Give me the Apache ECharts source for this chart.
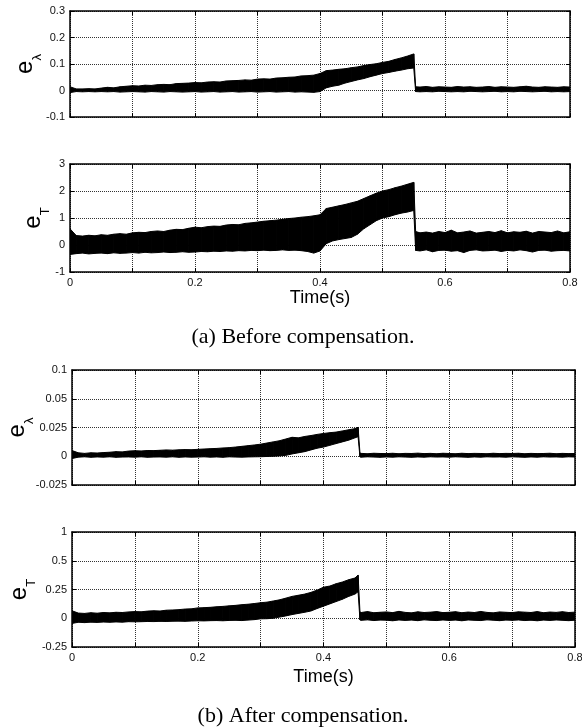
<!DOCTYPE html>
<html>
<head>
<meta charset="utf-8">
<title>Before / after compensation</title>
<script src="https://cdn.jsdelivr.net/npm/echarts@6.0.0/dist/echarts.min.js"></script>
<style>
  html, body { margin: 0; padding: 0; background: #fff; }
  #chart { width: 582px; height: 728px; }
</style>
</head>
<body>
<div id="chart"></div>
<script>
// time axis samples, (a) plots drop at 0.55 s, (b) plots at 0.455 s
var tTop = [0, 0.01, 0.02, 0.03, 0.04, 0.05, 0.06, 0.07, 0.08, 0.09,
    0.10, 0.11, 0.12, 0.13, 0.14, 0.15, 0.16, 0.17, 0.18, 0.19,
    0.20, 0.21, 0.22, 0.23, 0.24, 0.25, 0.26, 0.27, 0.28, 0.29,
    0.30, 0.31, 0.32, 0.33, 0.34, 0.35, 0.36, 0.37, 0.38, 0.39,
    0.40, 0.41, 0.42, 0.43, 0.44, 0.45, 0.46, 0.47, 0.48, 0.49,
    0.50, 0.51, 0.52, 0.53, 0.54, 0.55, 0.553, 0.56, 0.57, 0.58, 0.59,
    0.60, 0.61, 0.62, 0.63, 0.64, 0.65, 0.66, 0.67, 0.68, 0.69,
    0.70, 0.71, 0.72, 0.73, 0.74, 0.75, 0.76, 0.77, 0.78, 0.79, 0.80];
var tBot = [0, 0.01, 0.02, 0.03, 0.04, 0.05, 0.06, 0.07, 0.08, 0.09,
    0.10, 0.11, 0.12, 0.13, 0.14, 0.15, 0.16, 0.17, 0.18, 0.19,
    0.20, 0.21, 0.22, 0.23, 0.24, 0.25, 0.26, 0.27, 0.28, 0.29,
    0.30, 0.31, 0.32, 0.33, 0.34, 0.35, 0.36, 0.37, 0.38, 0.39,
    0.40, 0.41, 0.42, 0.43, 0.44, 0.45, 0.455, 0.458, 0.46, 0.47, 0.48, 0.49,
    0.50, 0.51, 0.52, 0.53, 0.54, 0.55, 0.56, 0.57, 0.58, 0.59,
    0.60, 0.61, 0.62, 0.63, 0.64, 0.65, 0.66, 0.67, 0.68, 0.69,
    0.70, 0.71, 0.72, 0.73, 0.74, 0.75, 0.76, 0.77, 0.78, 0.79, 0.80];

// (a) e_lambda : upper / lower envelope of the oscillation
var upLamA = [0.014, 0.006, 0.006, 0.007, 0.006, 0.009, 0.012, 0.010, 0.014, 0.016,
    0.018, 0.017, 0.020, 0.019, 0.022, 0.023, 0.022, 0.026, 0.027, 0.028,
    0.030, 0.029, 0.032, 0.033, 0.032, 0.036, 0.037, 0.038, 0.040, 0.039,
    0.043, 0.044, 0.043, 0.047, 0.048, 0.050, 0.051, 0.055, 0.056, 0.058,
    0.064, 0.075, 0.077, 0.080, 0.082, 0.086, 0.089, 0.094, 0.098, 0.101,
    0.106, 0.110, 0.117, 0.123, 0.130, 0.138, 0.014, 0.013, 0.015, 0.012, 0.014,
    0.013, 0.012, 0.015, 0.013, 0.014, 0.012, 0.013, 0.015, 0.012, 0.014,
    0.013, 0.012, 0.014, 0.016, 0.013, 0.012, 0.014, 0.013, 0.012, 0.014, 0.013];
var loLamA = [-0.008, -0.004, -0.005, -0.004, -0.005, -0.004, -0.005, -0.004, -0.006, -0.005,
    -0.004, -0.005, -0.006, -0.004, -0.005, -0.006, -0.004, -0.005, -0.006, -0.005,
    -0.004, -0.006, -0.005, -0.004, -0.006, -0.005, -0.004, -0.006, -0.005, -0.004,
    -0.006, -0.005, -0.004, -0.006, -0.005, -0.004, -0.006, -0.005, -0.006, -0.007,
    -0.004, 0.010, 0.016, 0.020, 0.028, 0.034, 0.040, 0.045, 0.052, 0.058,
    0.064, 0.068, 0.073, 0.077, 0.082, 0.085, -0.004, -0.005, -0.004, -0.005, -0.003,
    -0.004, -0.005, -0.004, -0.005, -0.003, -0.004, -0.005, -0.004, -0.003, -0.005,
    -0.004, -0.005, -0.003, -0.004, -0.005, -0.004, -0.003, -0.005, -0.004, -0.005, -0.004];

// (a) e_T
var upTA = [0.60, 0.35, 0.33, 0.36, 0.34, 0.38, 0.36, 0.40, 0.42, 0.40,
    0.45, 0.47, 0.46, 0.50, 0.52, 0.50, 0.55, 0.58, 0.57, 0.62,
    0.66, 0.64, 0.68, 0.70, 0.69, 0.74, 0.76, 0.75, 0.80, 0.82,
    0.85, 0.88, 0.90, 0.92, 0.95, 0.98, 1.00, 1.03, 1.05, 1.08,
    1.12, 1.35, 1.40, 1.45, 1.50, 1.56, 1.62, 1.72, 1.82, 1.92,
    2.00, 2.05, 2.12, 2.18, 2.25, 2.32, 0.50, 0.45, 0.48, 0.44, 0.50,
    0.46, 0.55, 0.45, 0.48, 0.52, 0.44, 0.47, 0.50, 0.46, 0.53,
    0.45, 0.49, 0.47, 0.51, 0.44, 0.50, 0.48, 0.46, 0.52, 0.45, 0.49];
var loTA = [-0.35, -0.32, -0.30, -0.33, -0.31, -0.30, -0.32, -0.29, -0.31, -0.30,
    -0.28, -0.30, -0.27, -0.29, -0.28, -0.26, -0.28, -0.27, -0.25, -0.27,
    -0.26, -0.24, -0.25, -0.23, -0.24, -0.22, -0.23, -0.21, -0.22, -0.20,
    -0.21, -0.19, -0.21, -0.20, -0.18, -0.20, -0.19, -0.21, -0.24, -0.30,
    -0.22, 0.05, 0.15, 0.20, 0.24, 0.28, 0.40, 0.60, 0.75, 0.90,
    1.00, 1.05, 1.12, 1.18, 1.22, 1.28, -0.20, -0.22, -0.18, -0.25, -0.20,
    -0.19, -0.23, -0.21, -0.28, -0.20, -0.18, -0.22, -0.21, -0.19, -0.24,
    -0.20, -0.22, -0.18, -0.21, -0.26, -0.20, -0.19, -0.23, -0.21, -0.20, -0.22];

// (b) e_lambda
var upLamB = [0.005, 0.003, 0.0025, 0.003, 0.0028, 0.0032, 0.0035, 0.004, 0.0038, 0.0045,
    0.0048, 0.0046, 0.005, 0.0049, 0.0052, 0.0055, 0.0053, 0.0056, 0.0058, 0.0057,
    0.006, 0.0063, 0.0066, 0.0068, 0.0072, 0.0075, 0.008, 0.0086, 0.0092, 0.0098,
    0.0105, 0.0115, 0.0125, 0.0135, 0.015, 0.0165, 0.016, 0.0172, 0.018, 0.019,
    0.0198, 0.0205, 0.021, 0.022, 0.023, 0.024, 0.0252, 0.0028, 0.0025, 0.0022, 0.0026, 0.0024,
    0.0023, 0.0026, 0.0022, 0.0025, 0.0024, 0.0027, 0.0023, 0.0025, 0.0022, 0.0026,
    0.0024, 0.0022, 0.0026, 0.0023, 0.0025, 0.0024, 0.0022, 0.0026, 0.0023, 0.0025,
    0.0024, 0.0026, 0.0022, 0.0025, 0.0023, 0.0024, 0.0026, 0.0022, 0.0025, 0.0023, 0.0024];
var loLamB = [-0.002, -0.0008, -0.0005, -0.0009, -0.0006, -0.0008, -0.0005, -0.0009, -0.0007, -0.0006,
    -0.0008, -0.0005, -0.0009, -0.0007, -0.0006, -0.0008, -0.0005, -0.0009, -0.0006, -0.0008,
    -0.0007, -0.0005, -0.0008, -0.0006, -0.0009, -0.0005, -0.0007, -0.0008, -0.0006, -0.0005,
    -0.0004, -0.0002, 0.0, 0.0003, 0.0008, 0.002, 0.003, 0.004, 0.0055, 0.007,
    0.008, 0.0095, 0.011, 0.0125, 0.014, 0.016, 0.017, -0.0006, -0.0008, -0.0005, -0.0007, -0.0009,
    -0.0006, -0.0008, -0.0005, -0.0007, -0.0009, -0.0006, -0.0008, -0.0005, -0.0007, -0.0006,
    -0.0008, -0.0005, -0.0007, -0.0009, -0.0006, -0.0008, -0.0005, -0.0007, -0.0006, -0.0008,
    -0.0005, -0.0007, -0.0009, -0.0006, -0.0008, -0.0005, -0.0007, -0.0006, -0.0008, -0.0005, -0.0007];

// (b) e_T
var upTB = [0.065, 0.045, 0.042, 0.048, 0.044, 0.050, 0.047, 0.052, 0.050, 0.055,
    0.058, 0.056, 0.062, 0.065, 0.063, 0.070, 0.072, 0.075, 0.080, 0.082,
    0.090, 0.092, 0.095, 0.100, 0.103, 0.108, 0.112, 0.118, 0.122, 0.128,
    0.135, 0.140, 0.150, 0.160, 0.175, 0.190, 0.200, 0.210, 0.225, 0.245,
    0.270, 0.280, 0.300, 0.315, 0.335, 0.350, 0.375, 0.055, 0.050, 0.058, 0.048, 0.052,
    0.055, 0.049, 0.060, 0.051, 0.047, 0.056, 0.050, 0.053, 0.058, 0.049,
    0.052, 0.057, 0.048, 0.054, 0.050, 0.059, 0.051, 0.047, 0.055, 0.052,
    0.049, 0.056, 0.053, 0.050, 0.058, 0.048, 0.054, 0.051, 0.057, 0.050, 0.053];
var loTB = [-0.045, -0.035, -0.038, -0.034, -0.036, -0.033, -0.035, -0.032, -0.034, -0.030,
    -0.031, -0.030, -0.028, -0.029, -0.027, -0.028, -0.026, -0.025, -0.027, -0.024,
    -0.022, -0.023, -0.021, -0.020, -0.022, -0.019, -0.018, -0.020, -0.016, -0.012,
    -0.005, -0.004, 0.000, 0.010, 0.020, 0.032, 0.042, 0.052, 0.063, 0.085,
    0.105, 0.125, 0.145, 0.165, 0.190, 0.210, 0.230, -0.015, -0.018, -0.014, -0.020, -0.016,
    -0.017, -0.022, -0.015, -0.019, -0.016, -0.021, -0.014, -0.018, -0.020, -0.015,
    -0.019, -0.016, -0.022, -0.015, -0.018, -0.020, -0.014, -0.017, -0.021, -0.016,
    -0.018, -0.015, -0.020, -0.017, -0.022, -0.016, -0.019, -0.015, -0.018, -0.021, -0.017];

// tick labels (the (b) plots use uneven labels on an evenly spaced grid)
var xLabels = ['0', '', '0.2', '', '0.4', '', '0.6', '', '0.8'];
var yLabLamA = ['-0.1', '0', '0.1', '0.2', '0.3'];
var yLabTA = ['-1', '0', '1', '2', '3'];
var yLabLamB = ['-0.025', '0', '0.025', '0.05', '0.1'];
var yLabTB = ['-0.25', '0', '0.25', '0.5', '1'];

var FONT = 'Liberation Sans';

var chart = echarts.init(document.getElementById('chart'));

// one polygon per time step, between upper and lower envelope
function bandData(times, upper, lower) {
    var out = [];
    for (var i = 0; i < times.length - 1; i++) {
        out.push([times[i], upper[i], lower[i], times[i + 1], upper[i + 1], lower[i + 1]]);
    }
    return out;
}

function renderBand(params, api) {
    var a = api.coord([api.value(0), api.value(1)]);
    var b = api.coord([api.value(3), api.value(4)]);
    var c = api.coord([api.value(3), api.value(5)]);
    var d = api.coord([api.value(0), api.value(2)]);
    return {
        type: 'polygon',
        shape: {points: [a, b, c, d]},
        style: {fill: '#000', stroke: '#000', lineWidth: 1}
    };
}

function bandSeries(g, times, upper, lower) {
    return {
        type: 'custom',
        xAxisIndex: g * 2,
        yAxisIndex: g * 2,
        renderItem: renderBand,
        encode: {x: [0, 3], y: [1, 2, 4, 5]},
        data: bandData(times, upper, lower),
        clip: true,
        silent: true
    };
}

var tick = {show: true, inside: true, length: 4, lineStyle: {color: '#000'}};
var frame = {show: true, onZero: false, lineStyle: {color: '#000', width: 1.5}};
var dots = {show: true, lineStyle: {color: '#333', type: 'dotted', width: 1}};

function xAxes(g, withLabels, gap) {
    var bottom = {
        type: 'value', gridIndex: g, position: 'bottom',
        min: 0, max: 0.8, interval: 0.1,
        axisLine: frame, axisTick: tick, splitLine: dots,
        axisLabel: {
            show: withLabels, color: '#111', fontFamily: FONT, fontSize: 11, margin: 5,
            showMinLabel: true, showMaxLabel: true,
            formatter: function (v, i) { return xLabels[i]; }
        }
    };
    if (withLabels) {
        bottom.name = 'Time(s)';
        bottom.nameLocation = 'middle';
        bottom.nameGap = gap;
        bottom.nameTextStyle = {color: '#000', fontFamily: FONT, fontSize: 18};
    }
    var top = {
        type: 'value', gridIndex: g, position: 'top',
        min: 0, max: 0.8, interval: 0.1,
        axisLine: frame, axisTick: tick, splitLine: {show: false}, axisLabel: {show: false}
    };
    return [bottom, top];
}

function yAxes(g, min, max, step, labels, sub, gap) {
    var left = {
        type: 'value', gridIndex: g, position: 'left',
        min: min, max: max, interval: step,
        axisLine: frame, axisTick: tick, splitLine: dots,
        axisLabel: {
            color: '#111', fontFamily: FONT, fontSize: 11, margin: 5,
            showMinLabel: true, showMaxLabel: true,
            formatter: function (v, i) { return labels[i]; }
        },
        name: '{e|e}{s|' + sub + '}',
        nameLocation: 'middle',
        nameRotate: 90,
        nameGap: gap,
        nameMoveOverlap: false,
        nameTextStyle: {
            rich: {
                e: {fontSize: 24, fontFamily: FONT, color: '#000'},
                s: {fontSize: 13, fontFamily: FONT, color: '#000', padding: [24, 0, 0, 0]}
            }
        }
    };
    var right = {
        type: 'value', gridIndex: g, position: 'right',
        min: min, max: max, interval: step,
        axisLine: frame, axisTick: tick, splitLine: {show: false}, axisLabel: {show: false}
    };
    return [left, right];
}

var option = {
    animation: false,
    backgroundColor: '#fff',
    grid: [
        {left: 70, top: 11, width: 500, height: 106, outerBoundsMode: 'none'},
        {left: 70, top: 164, width: 500, height: 108, outerBoundsMode: 'none'},
        {left: 72, top: 370, width: 503, height: 115, outerBoundsMode: 'none'},
        {left: 72, top: 532, width: 503, height: 115, outerBoundsMode: 'none'}
    ],
    xAxis: [].concat(xAxes(0, false), xAxes(1, true, 17), xAxes(2, false), xAxes(3, true, 21)),
    yAxis: [].concat(
        yAxes(0, -0.1, 0.3, 0.1, yLabLamA, 'λ', 26),
        yAxes(1, -1, 3, 1, yLabTA, 'T', 18),
        yAxes(2, -0.025, 0.075, 0.025, yLabLamB, 'λ', 36),
        yAxes(3, -0.25, 0.75, 0.25, yLabTB, 'T', 34)
    ),
    series: [
        bandSeries(0, tTop, upLamA, loLamA),
        bandSeries(1, tTop, upTA, loTA),
        bandSeries(2, tBot, upLamB, loLamB),
        bandSeries(3, tBot, upTB, loTB)
    ],
    graphic: [
        {
            type: 'text', x: 303, y: 337,
            style: {text: '(a) Before compensation.', fontSize: 22, fontFamily: 'Liberation Serif',
                fill: '#000', align: 'center', verticalAlign: 'middle'}
        },
        {
            type: 'text', x: 303, y: 716,
            style: {text: '(b) After compensation.', fontSize: 22, fontFamily: 'Liberation Serif',
                fill: '#000', align: 'center', verticalAlign: 'middle'}
        }
    ]
};

chart.setOption(option);
</script>
</body>
</html>
